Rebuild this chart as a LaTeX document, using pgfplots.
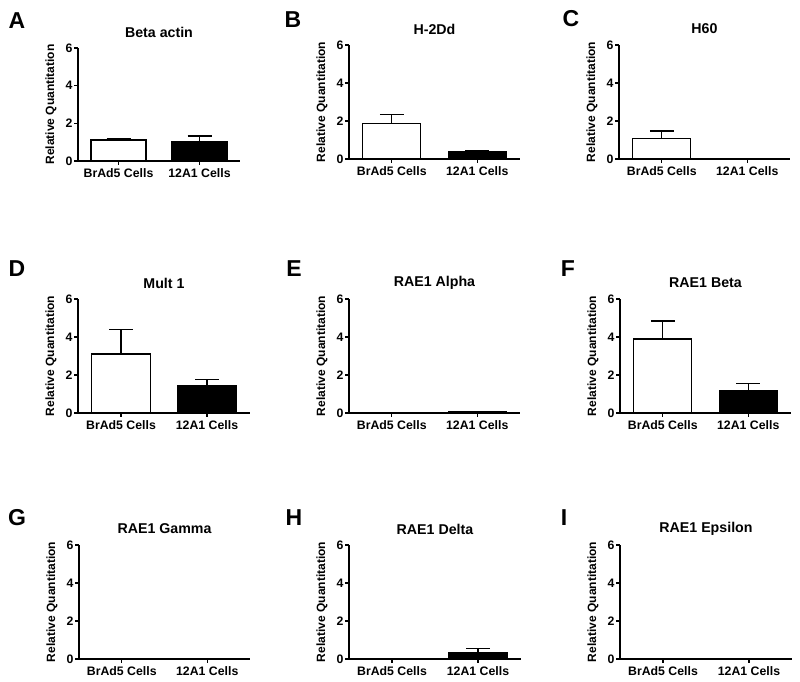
\documentclass[border=0pt]{standalone}
\usepackage{fontspec}
\setmainfont{Liberation Sans}
\usepackage{pgfplots}
\pgfplotsset{compat=1.18}
\pgfplotsset{
 panel/.style={
  scale only axis, width=171pt, height=114pt,
  xmin=0, xmax=2, ymin=0, ymax=6,
  axis lines=left, axis line style={-, line width=1.2pt},
  xtick={0.5,1.5}, xticklabels={BrAd5 Cells, 12A1 Cells},
  ytick={0,2,4,6},
  tick align=outside, tick style={line width=1.2pt, black}, major tick length=4pt,
  /pgf/number format/assume math mode=true,
  ticklabel style={font=\fontsize{12.3}{13}\selectfont\bfseries},
  yticklabel style={xshift=2pt},
  ylabel={Relative Quantitation},
  ylabel style={font=\fontsize{12}{13}\selectfont\bfseries, at={(axis description cs:0,0.5)}, anchor=center, yshift=27pt},
  title style={font=\fontsize{14.2}{16}\selectfont\bfseries, at={(axis description cs:0.5,1)}, anchor=center, yshift=10pt},
  ybar, bar width=0.68, bar shift=0pt,
  clip=false,
  anchor=south west,
 },
 cbar/.style={draw=black, line width=1.3pt,
   error bars/y dir=plus, error bars/y explicit,
   error bars/error bar style={line width=1.3pt, black},
   error bars/error mark options={black, line width=1.3pt, mark size=12pt, rotate=90}},
}
\begin{document}
\begin{tikzpicture}[x=1pt,y=1pt]
\useasboundingbox (0,0) rectangle (800,682);
\tikzset{lett/.style={font=\fontsize{23}{23}\selectfont\bfseries, anchor=center}}
\node[lett] at (17,661) {A};
\node[lett] at (293,662) {B};
\node[lett] at (571,663) {C};
\node[lett] at (17,413) {D};
\node[lett] at (294,413) {E};
\node[lett] at (568,413) {F};
\node[lett] at (17,164) {G};
\node[lett] at (294,164) {H};
\node[lett] at (564,164) {I};

% A
\begin{axis}[panel, at={(78pt,521pt)}, width=162pt, height=113pt, title={Beta actin}]
\addplot[cbar, fill=white] coordinates {(0.5,1.12) +- (0,0.05)};
\addplot[cbar, fill=black] coordinates {(1.5,1.02) +- (0,0.30)};
\end{axis}
% B
\begin{axis}[panel, at={(349pt,523pt)}, title={H-2Dd}]
\addplot[cbar, fill=white] coordinates {(0.5,1.86) +- (0,0.50)};
\addplot[cbar, fill=black] coordinates {(1.5,0.37) +- (0,0.09)};
\end{axis}
% C
\begin{axis}[panel, at={(619pt,523pt)}, title={H60}]
\addplot[cbar, fill=white] coordinates {(0.5,1.07) +- (0,0.40)};
\addplot[cbar, fill=black] coordinates {(1.5,0.03) +- (0,0.01)};
\end{axis}
% D
\begin{axis}[panel, at={(78pt,269pt)}, width=172pt, title={Mult 1}]
\addplot[cbar, fill=white] coordinates {(0.5,3.10) +- (0,1.30)};
\addplot[cbar, fill=black] coordinates {(1.5,1.43) +- (0,0.35)};
\end{axis}
% E
\begin{axis}[panel, at={(349pt,269pt)}, title={RAE1 Alpha}]
\addplot[cbar, fill=white] coordinates {(0.5,0.01) +- (0,0.005)};
\addplot[cbar, fill=black] coordinates {(1.5,0.06) +- (0,0.02)};
\end{axis}
% F
\begin{axis}[panel, at={(620pt,269pt)}, title={RAE1 Beta}]
\addplot[cbar, fill=white] coordinates {(0.5,3.89) +- (0,0.95)};
\addplot[cbar, fill=black] coordinates {(1.5,1.17) +- (0,0.37)};
\end{axis}
% G
\begin{axis}[panel, at={(79pt,23pt)}, title={RAE1 Gamma}]
\addplot[cbar, fill=white] coordinates {(0.5,0.01) +- (0,0)};
\addplot[cbar, fill=black] coordinates {(1.5,0.01) +- (0,0)};
\end{axis}
% H
\begin{axis}[panel, at={(349pt,23pt)}, width=172pt, title={RAE1 Delta}]
\addplot[cbar, fill=white] coordinates {(0.5,0.01) +- (0,0)};
\addplot[cbar, fill=black] coordinates {(1.5,0.32) +- (0,0.24)};
\end{axis}
% I
\begin{axis}[panel, at={(620pt,23pt)}, width=172pt, title={RAE1 Epsilon}]
\addplot[cbar, fill=white] coordinates {(0.5,0.01) +- (0,0)};
\addplot[cbar, fill=black] coordinates {(1.5,0.01) +- (0,0)};
\end{axis}
\end{tikzpicture}
\end{document}
